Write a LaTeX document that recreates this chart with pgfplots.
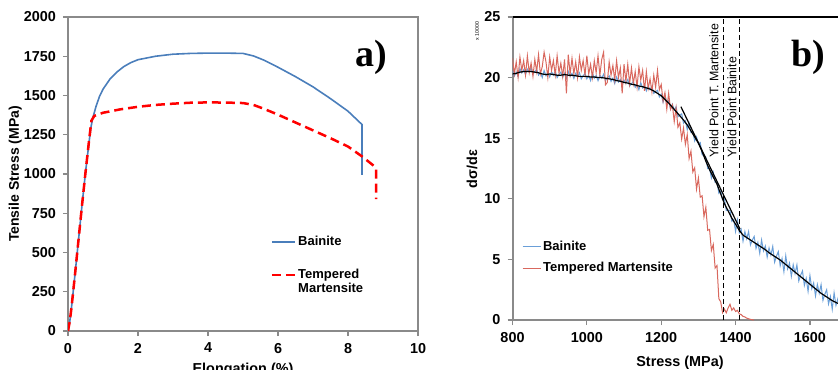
\documentclass[border=0pt]{standalone}
\usepackage{pgfplots}
\pgfplotsset{compat=1.18}
\usepackage{fontspec}
\setmainfont{Liberation Sans}
\newfontfamily\serifb{Liberation Serif}
\definecolor{bblue}{HTML}{4A7EBB}
\definecolor{lblue}{HTML}{6A9FD8}
\definecolor{lred}{HTML}{D9685E}
\definecolor{axgray}{HTML}{8A8A8A}
\pgfplotsset{
  common/.style={
    scale only axis, anchor=south west,
    tick align=outside, major tick length=2.5pt,
    xtick pos=bottom, ytick pos=left,
    tick style={axgray, line width=0.6pt},
    ticklabel style={font=\bfseries\fontsize{7.2}{8}\selectfont},
    /pgf/number format/assume math mode=true,
    /pgf/number format/1000 sep={},
    scaled ticks=false,
    legend cell align=left,
  }
}
\begin{document}
\begin{tikzpicture}[x=1pt,y=1pt]
\useasboundingbox (0,0) rectangle (419,184.5);
\clip (0,0) rectangle (419,184.5);
% ---------------- panel a ----------------
\begin{axis}[common,
  at={(34pt,19pt)}, width=175pt, height=157pt,
  xmin=0, xmax=10, ymin=0, ymax=2000,
  xtick={0,2,...,10}, ytick={0,250,...,2000},
  axis line style={axgray, line width=0.8pt},
  xlabel={Elongation (\%)},
  xlabel style={at={(axis description cs:0.5,-0.1)}, anchor=north, inner sep=0pt, font=\bfseries\fontsize{7.2}{8}\selectfont},
  ylabel={Tensile Stress (MPa)},
  ylabel style={at={(axis description cs:-0.151,0.5)}, anchor=center, inner sep=0pt, font=\bfseries\fontsize{7}{8}\selectfont},
  legend style={draw=none, fill=none, at={(axis description cs:0.578,0.311)}, anchor=north west, inner sep=0pt,
    font=\bfseries\fontsize{6.5}{7.6}\selectfont, row sep=8pt, nodes={inner sep=1pt}},
  legend image code/.code={\draw[#1] (0pt,0pt) -- (11.5pt,0pt);},
]
\addplot[bblue, line width=0.8pt] coordinates {
(0,0) (0.05,60) (0.1,150) (0.2,360) (0.3,580) (0.4,800) (0.5,1010) (0.6,1200) (0.65,1290) (0.7,1350)
(0.8,1430) (0.9,1494) (1.0,1540) (1.2,1605) (1.4,1650) (1.6,1685) (1.8,1710) (2.0,1728) (2.5,1750)
(3.0,1763) (3.5,1768) (4.0,1770) (4.5,1770) (5.0,1768) (5.3,1752) (5.6,1725) (6.0,1680) (6.5,1620)
(7.0,1555) (7.5,1480) (8.0,1400) (8.4,1315) (8.4,995)};
\addlegendentry{Bainite}
\addplot[red, line width=1.25pt, dash pattern=on 4.5pt off 2.5pt] coordinates {
(0,0) (0.05,60) (0.1,150) (0.2,360) (0.3,580) (0.4,800) (0.5,1010) (0.6,1210) (0.67,1340) (0.75,1370)
(1.0,1390) (1.5,1412) (2.0,1428) (2.5,1440) (3.0,1448) (3.5,1454) (4.0,1456) (4.5,1455) (5.0,1452)
(5.3,1440) (5.6,1415) (6.0,1378) (6.5,1328) (7.0,1278) (7.5,1228) (8.0,1175) (8.4,1112) (8.76,1048)
(8.8,1030) (8.8,840)};
\addlegendentry{\begin{tabular}[t]{@{}l@{}}Tempered\\[-1pt]Martensite\end{tabular}}
\end{axis}
\node[font=\serifb\bfseries\fontsize{19}{19}\selectfont] at (185.5,156) {a)};
% ---------------- panel b ----------------
\begin{axis}[common,
  at={(256.25pt,24.5pt)}, width=167.3pt, height=151.5pt,
  xmin=800, xmax=1700, ymin=0, ymax=25,
  xtick={800,1000,...,1600}, ytick={0,5,...,25},
  axis line style={axgray, line width=1pt},
  xlabel={Stress (MPa)},
  xlabel style={at={(axis description cs:0.5006,-0.152)}, anchor=base, inner sep=0pt, font=\bfseries\fontsize{7.2}{8}\selectfont},
  ylabel={dσ/dε},
  ylabel style={at={(axis description cs:-0.121,0.498)}, anchor=center, inner sep=0pt, font=\bfseries\fontsize{7.2}{8}\selectfont},
  legend style={draw=none, fill=none, at={(axis description cs:0.0275,0.27)}, anchor=north west, inner sep=0pt,
    font=\bfseries\fontsize{6.5}{7.6}\selectfont, row sep=2.5pt, nodes={inner sep=1pt}},
  legend image code/.code={\draw[#1] (0pt,0pt) -- (9pt,0pt);},
  after end axis/.code={\draw[black, line width=0.9pt] (rel axis cs:0,1) -- (rel axis cs:1,1);},
]
\addplot[lblue, line width=0.5pt] coordinates {
(800,20.55)(805,20.13)(810,20.45)(815,20.10)(820,20.75)(825,20.38)(830,20.65)(835,20.25)(840,20.70)(845,20.45)
(850,20.80)(855,20.28)(860,20.50)(865,20.68)(870,20.20)(875,20.45)(880,20.00)(885,20.58)(890,20.15)(895,20.43)
(900,20.05)(905,20.48)(910,20.20)(915,20.53)(920,20.00)(925,20.25)(930,20.45)(935,20.03)(940,20.35)(945,19.93)
(950,20.50)(955,20.10)(960,20.35)(965,19.93)(970,20.35)(975,20.08)(980,20.40)(985,19.90)(990,20.15)(995,20.35)
(1000,19.90)(1005,20.18)(1010,19.75)(1015,20.35)(1020,19.95)(1025,20.18)(1030,19.75)(1035,20.20)(1040,19.95)(1045,20.28)
(1050,19.75)(1055,19.98)(1060,20.15)(1065,19.68)(1070,19.95)(1075,19.50)(1080,20.05)(1085,19.63)(1090,19.85)(1095,19.40)
(1100,19.80)(1105,19.53)(1110,19.85)(1115,19.30)(1120,19.50)(1125,19.68)(1130,19.20)(1135,19.45)(1140,19.00)(1145,19.58)
(1150,19.15)(1155,19.35)(1160,18.90)(1165,19.30)(1170,19.00)(1175,19.28)(1180,18.70)(1185,18.85)(1190,18.95)(1195,18.40)
(1200,18.63)(1205,17.96)(1210,18.59)(1215,17.92)(1220,18.10)(1225,17.40)(1230,17.81)(1235,17.31)(1240,17.59)(1245,16.77)
(1250,16.92)(1255,17.01)(1260,16.24)(1265,16.43)(1270,15.71)(1275,16.24)(1280,15.47)(1285,15.55)(1290,14.77)(1295,15.11)
(1300,14.53)(1305,14.64)(1310,13.64)(1315,13.57)(1320,13.43)(1325,12.49)(1330,12.53)(1335,11.71)(1340,12.19)(1345,11.37)
(1350,11.40)(1355,10.47)(1360,10.66)(1365,9.93)(1370,9.99)(1375,9.04)(1380,9.07)(1385,9.03)(1390,8.14)(1395,8.28)
(1400,7.30)(1405,8.25)(1410,7.20)(1415,7.50)(1420,6.50)(1425,7.30)(1430,6.70)(1435,7.30)(1440,6.20)(1445,6.60)
(1450,6.90)(1455,5.90)(1460,6.40)(1465,5.50)(1470,6.60)(1475,5.70)(1480,6.10)(1485,5.18)(1490,5.95)(1495,5.35)
(1500,6.07)(1505,4.77)(1510,5.27)(1515,5.65)(1520,4.47)(1525,5.07)(1530,3.98)(1535,5.30)(1540,4.21)(1545,4.69)
(1550,3.60)(1555,4.56)(1560,3.83)(1565,4.55)(1570,3.22)(1575,3.70)(1580,4.05)(1585,2.85)(1590,3.44)(1595,2.36)
(1600,3.67)(1605,2.59)(1610,3.06)(1615,1.98)(1620,2.93)(1625,2.21)(1630,2.92)(1635,1.62)(1640,2.12)(1645,2.50)
(1650,1.32)(1655,1.94)(1660,0.88)(1665,2.25)(1670,1.21)(1675,1.74)(1680,0.70)(1685,1.71)(1690,1.03)(1695,1.80)
(1700,0.52)};
\addlegendentry{Bainite}
\addplot[lred, line width=0.5pt] coordinates {
(800,21.6)(805,20.3)(810,21.3)(815,20.0)(820,21.7)(825,20.6)(830,21.4)(835,20.2)(840,21.8)(845,20.4)
(850,21.2)(855,20.1)(860,21.5)(865,20.5)(870,21.9)(875,20.3)(880,20.9)(885,22.1)(890,21.3)(895,20.0)
(900,21.7)(905,20.6)(910,21.4)(915,20.2)(920,21.8)(925,20.4)(930,21.2)(935,20.1)(940,21.5)(945,18.7)
(950,21.9)(955,20.3)(960,21.6)(965,20.3)(970,21.3)(975,20.0)(980,21.7)(985,20.6)(990,21.4)(995,20.2)
(1000,21.8)(1005,20.3)(1010,21.1)(1015,20.0)(1020,21.4)(1025,20.4)(1030,21.8)(1035,20.2)(1040,21.5)(1045,22.1)
(1050,19.4)(1055,19.6)(1060,21.3)(1065,20.2)(1070,21.0)(1075,19.8)(1080,21.4)(1085,20.0)(1090,20.8)(1095,18.7)
(1100,21.1)(1105,19.7)(1110,21.1)(1115,19.5)(1120,20.8)(1125,19.5)(1130,20.5)(1135,19.2)(1140,20.9)(1145,19.8)
(1150,20.6)(1155,18.9)(1160,20.5)(1165,19.1)(1170,19.9)(1175,18.8)(1180,20.2)(1185,19.2)(1190,20.6)(1195,19.0)
(1200,19.43)(1205,18.06)(1210,18.76)(1215,17.39)(1220,18.72)(1225,17.38)(1230,17.75)(1235,16.37)(1240,17.51)(1245,15.90)
(1250,16.27)(1255,14.93)(1260,15.84)(1265,14.49)(1270,15.30)(1275,13.31)(1280,13.93)(1285,12.21)(1290,12.56)(1295,10.79)
(1300,11.72)(1305,10.13)(1310,10.25)(1315,8.52)(1320,9.31)(1325,7.40)(1330,7.47)(1335,5.73)(1340,6.24)(1345,4.29)
(1350,4.50)(1355,1.76)(1360,1.50)(1365,0.60)(1370,0.90)(1375,0.60)(1380,1.00)(1385,1.30)(1390,0.80)(1395,1.00)
(1400,0.70)(1405,0.80)(1410,0.50)(1415,0.45)(1420,0.30)(1425,0.25)(1430,0.15)(1435,0.10)(1440,0.05)(1445,0.02)
(1450,0.00)};
\addlegendentry{Tempered Martensite}
\addplot[black, line width=0.6pt] coordinates {
(800,20.3)(810,20.35)(820,20.45)(830,20.5)(840,20.5)(850,20.5)(860,20.45)(870,20.4)(880,20.3)(890,20.25)
(900,20.3)(910,20.25)(920,20.2)(930,20.2)(940,20.25)(950,20.2)(960,20.2)(970,20.15)(980,20.1)(990,20.1)
(1000,20.1)(1010,20.05)(1020,20.05)(1030,20.0)(1040,20.0)(1050,19.95)(1060,19.9)(1070,19.85)(1080,19.75)(1090,19.7)
(1100,19.6)(1110,19.55)(1120,19.45)(1130,19.4)(1140,19.3)(1150,19.25)(1160,19.15)(1170,19.05)(1180,18.9)(1190,18.7)
(1200,18.5)(1210,18.2)(1220,17.9)(1230,17.55)(1240,17.2)(1250,16.85)(1260,16.5)(1270,16.1)(1280,15.6)(1290,15.1)
(1300,14.6)(1310,13.9)(1320,13.1)(1330,12.4)(1340,11.8)(1350,11.2)(1360,10.4)(1370,9.6)(1380,9.0)(1390,8.4)
(1400,7.9)(1410,7.4)(1420,7.0)(1430,6.8)(1440,6.6)(1450,6.4)(1460,6.2)(1470,6.0)(1480,5.8)(1490,5.55)
(1500,5.35)(1510,5.15)(1520,4.95)(1530,4.7)(1540,4.45)(1550,4.2)(1560,3.95)(1570,3.7)(1580,3.45)(1590,3.2)
(1600,2.95)(1610,2.7)(1620,2.45)(1630,2.2)(1640,2.0)(1650,1.8)(1660,1.6)(1670,1.45)(1680,1.3)(1690,1.15)(1700,1.0)};
\addplot[black, line width=0.6pt] coordinates {(1253,17.6) (1412,7.5)};
\addplot[black, line width=0.5pt, dash pattern=on 2.5pt off 1.5pt] coordinates {(1368,0) (1368,25)};
\addplot[black, line width=0.5pt, dash pattern=on 2.5pt off 1.5pt] coordinates {(1410,0) (1410,25)};
\node[rotate=90, anchor=west, inner sep=0pt, font=\fontsize{6.2}{7}\selectfont] at (axis cs:1342,13.4) {Yield Point T. Martensite};
\node[rotate=90, anchor=west, inner sep=0pt, font=\fontsize{6.2}{7}\selectfont] at (axis cs:1390,13.4) {Yield Point Bainite};
\end{axis}
\node[font=\serifb\bfseries\fontsize{19}{19}\selectfont] at (404,156) {b)};
\node[rotate=90, inner sep=0pt, font=\fontsize{2.6}{3}\selectfont] at (238.5,169) {x 10000};
\end{tikzpicture}
\end{document}
